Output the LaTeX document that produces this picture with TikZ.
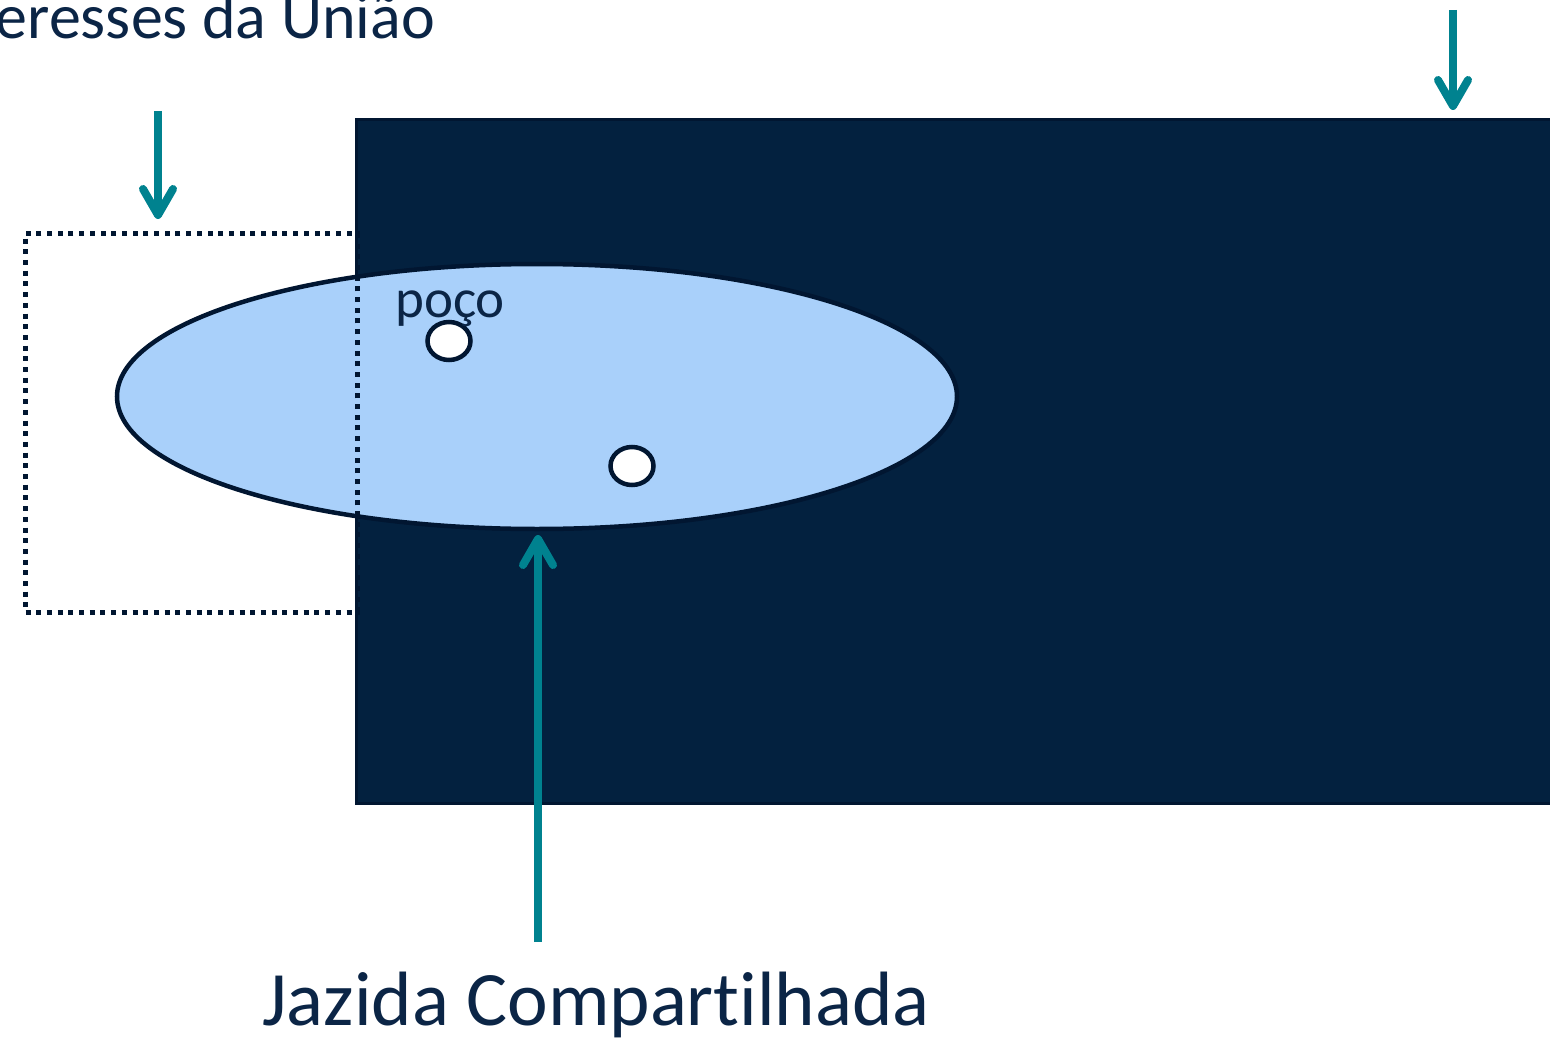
\documentclass[tikz,border=0pt]{standalone}
\usepackage{fontspec}
\setmainfont{Carlito}[Ligatures=NoCommon]
\usetikzlibrary{arrows.meta,shapes.geometric}
\definecolor{navy}{HTML}{03213F}
\definecolor{navyline}{HTML}{011631}
\definecolor{txt}{HTML}{0B2546}
\definecolor{lightblue}{HTML}{A9D0FA}
\definecolor{teal}{HTML}{00828F}
\tikzset{
  arr/.style={teal, line width=8pt, -{Straight Barb[round,length=26pt,width=30pt]}},
  well/.style={ellipse, draw=navyline, fill=white, line width=4.5pt, minimum width=43pt, minimum height=38pt, inner sep=0pt},
  lbl/.style={text=txt, inner sep=0pt},
  dotbox/.style={draw=navyline, line width=5pt, dash pattern=on 5pt off 5.7pt}
}
\begin{document}
\begin{tikzpicture}[x=1pt,y=-1pt]
\clip (0,0) rectangle (1550,1038);
\fill[white] (0,0) rectangle (1550,1038);
% block
\node[draw=navyline, fill=navy, line width=3pt, anchor=north west, minimum width=1300pt, minimum height=683pt, inner sep=0pt] (blk) at (354.5,118.5) {};
% reservoir
\node[ellipse, draw=navyline, fill=lightblue, line width=4.5pt, minimum width=840pt, minimum height=265pt, inner sep=0pt, outer sep=0pt] (ell) at (537,396.5) {};
% dotted area
\node[dotbox, anchor=north west, minimum width=332pt, minimum height=379pt, inner sep=0pt] (area) at (23,230.5) {};
% wells
\node[well] (w1) at (449,341) {};
\node[well] (w2) at (632,466) {};
\node[lbl, anchor=base west, font=\fontsize{55}{66}\selectfont] (poco) at (395,317) {poço};
% texts
\node[lbl, anchor=base east, font=\fontsize{64}{77}\selectfont] (uniao) at (435,39) {eresses da União};
\node[lbl, anchor=base, font=\fontsize{77}{92}\selectfont] (jazida) at (596,1025) {Jazida Compartilhada};
% arrows
\coordinate (a1s) at (158,111);
\coordinate (a1e) at (158,219);
\coordinate (a2s) at (1453,10);
\coordinate (a2e) at (1453,110);
\coordinate (a3s) at (538,942);
\draw[arr] (a1s) -- (a1e);
\draw[arr] (a2s) -- (a2e);
\draw[arr] (a3s) -- ([yshift=-6pt]ell.south -| a3s);
\end{tikzpicture}
\end{document}
